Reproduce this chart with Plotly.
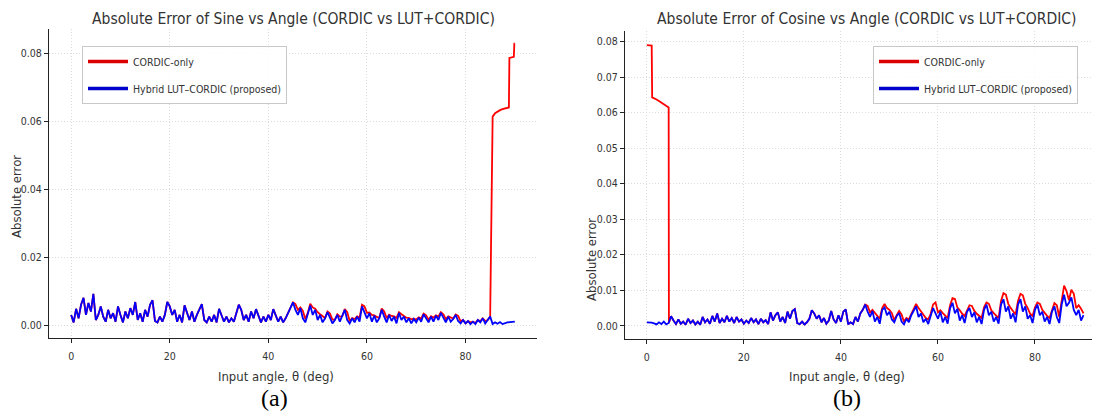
import plotly.graph_objects as go

# ---------------- data ----------------
# common angle grid, 0.5 deg steps
angle = [i * 0.5 for i in range(181)]

# Sine: hybrid LUT-CORDIC absolute error (0..90 deg)
sin_hybrid = [
    0.0030, 0.0008, 0.0048, 0.0020, 0.0060, 0.0080, 0.0030, 0.0065, 0.0040, 0.0092,
    0.0015, 0.0030, 0.0055, 0.0025, 0.0010, 0.0045, 0.0020, 0.0035, 0.0010, 0.0055,
    0.0030, 0.0008, 0.0040, 0.0020, 0.0050, 0.0030, 0.0068, 0.0015, 0.0035, 0.0010,
    0.0045, 0.0025, 0.0060, 0.0073, 0.0012, 0.0008, 0.0025, 0.0010, 0.0030, 0.0068,
    0.0055, 0.0030, 0.0045, 0.0010, 0.0030, 0.0008, 0.0058, 0.0035, 0.0015, 0.0040,
    0.0010, 0.0030, 0.0048, 0.0062, 0.0015, 0.0008, 0.0025, 0.0010, 0.0030, 0.0008,
    0.0048, 0.0030, 0.0010, 0.0025, 0.0008, 0.0020, 0.0010, 0.0035, 0.0060, 0.0045,
    0.0015, 0.0030, 0.0010, 0.0040, 0.0020, 0.0047, 0.0025, 0.0008, 0.0025, 0.0010,
    0.0030, 0.0015, 0.0047, 0.0030, 0.0010, 0.0025, 0.0008, 0.0020, 0.0035, 0.0050,
    0.0067, 0.0045, 0.0030, 0.0050, 0.0020, 0.0008, 0.0035, 0.0058, 0.0030, 0.0045,
    0.0015, 0.0030, 0.0008, 0.0020, 0.0038, 0.0020, 0.0005, 0.0015, 0.0030, 0.0010,
    0.0025, 0.0045, 0.0015, 0.0005, 0.0020, 0.0008, 0.0025, 0.0010, 0.0055, 0.0040,
    0.0020, 0.0035, 0.0010, 0.0028, 0.0008, 0.0020, 0.0045, 0.0025, 0.0008, 0.0030,
    0.0012, 0.0025, 0.0005, 0.0036, 0.0015, 0.0025, 0.0008, 0.0020, 0.0005, 0.0018,
    0.0008, 0.0022, 0.0010, 0.0032, 0.0018, 0.0008, 0.0025, 0.0010, 0.0028, 0.0015,
    0.0036, 0.0020, 0.0008, 0.0025, 0.0010, 0.0018, 0.0030, 0.0012, 0.0005, 0.0015,
    0.0005, 0.0012, 0.0003, 0.0010, 0.0003, 0.0015, 0.0008, 0.0020, 0.0005, 0.0015,
    0.0025, 0.0003, 0.0008, 0.0004, 0.0009, 0.0003, 0.0006, 0.0008, 0.0009, 0.0010,
    0.0010,
]

# Sine: CORDIC-only absolute error
sin_cordic_angle = [
    0.0, 0.5, 1.0, 1.5, 2.0, 2.5, 3.0, 3.5, 4.0, 4.5, 5.0, 5.5, 6.0, 6.5, 7.0, 7.5, 8.0, 8.5, 9.0, 9.5,
    10.0, 10.5, 11.0, 11.5, 12.0, 12.5, 13.0, 13.5, 14.0, 14.5, 15.0, 15.5, 16.0, 16.5, 17.0, 17.5, 18.0, 18.5, 19.0, 19.5,
    20.0, 20.5, 21.0, 21.5, 22.0, 22.5, 23.0, 23.5, 24.0, 24.5, 25.0, 25.5, 26.0, 26.5, 27.0, 27.5, 28.0, 28.5, 29.0, 29.5,
    30.0, 30.5, 31.0, 31.5, 32.0, 32.5, 33.0, 33.5, 34.0, 34.5, 35.0, 35.5, 36.0, 36.5, 37.0, 37.5, 38.0, 38.5, 39.0, 39.5,
    40.0, 40.5, 41.0, 41.5, 42.0, 42.5, 43.0, 43.5, 44.0, 44.5, 45.0, 45.5, 46.0, 46.5, 47.0, 47.5, 48.0, 48.5, 49.0, 49.5,
    50.0, 50.5, 51.0, 51.5, 52.0, 52.5, 53.0, 53.5, 54.0, 54.5, 55.0, 55.5, 56.0, 56.5, 57.0, 57.5, 58.0, 58.5, 59.0, 59.5,
    60.0, 60.5, 61.0, 61.5, 62.0, 62.5, 63.0, 63.5, 64.0, 64.5, 65.0, 65.5, 66.0, 66.5, 67.0, 67.5, 68.0, 68.5, 69.0, 69.5,
    70.0, 70.5, 71.0, 71.5, 72.0, 72.5, 73.0, 73.5, 74.0, 74.5, 75.0, 75.5, 76.0, 76.5, 77.0, 77.5, 78.0, 78.5, 79.0, 79.5,
    80.0, 80.5, 81.0, 81.5, 82.0, 82.5, 83.0, 83.5, 84.0, 84.5, 85.0,
    85.4, 85.5, 86.0, 86.5, 87.0, 87.5, 88.0, 88.5, 88.8, 88.9, 89.5, 89.8, 89.9, 90.0,
]
sin_cordic = [
    0.0030, 0.0008, 0.0048, 0.0020, 0.0060, 0.0080, 0.0030, 0.0065, 0.0040, 0.0092,
    0.0015, 0.0030, 0.0055, 0.0025, 0.0010, 0.0045, 0.0020, 0.0035, 0.0010, 0.0055,
    0.0030, 0.0008, 0.0040, 0.0020, 0.0050, 0.0030, 0.0068, 0.0015, 0.0035, 0.0010,
    0.0045, 0.0025, 0.0060, 0.0073, 0.0012, 0.0008, 0.0025, 0.0010, 0.0030, 0.0068,
    0.0055, 0.0030, 0.0045, 0.0010, 0.0030, 0.0008, 0.0058, 0.0035, 0.0015, 0.0040,
    0.0010, 0.0030, 0.0048, 0.0062, 0.0015, 0.0008, 0.0025, 0.0010, 0.0030, 0.0008,
    0.0048, 0.0030, 0.0010, 0.0025, 0.0008, 0.0020, 0.0010, 0.0035, 0.0060, 0.0045,
    0.0015, 0.0030, 0.0010, 0.0040, 0.0020, 0.0047, 0.0025, 0.0008, 0.0025, 0.0010,
    0.0030, 0.0015, 0.0047, 0.0030, 0.0010, 0.0025, 0.0008, 0.0020, 0.0035, 0.0050,
    0.0067, 0.0062, 0.0045, 0.0052, 0.0042, 0.0018, 0.0036, 0.0063, 0.0052, 0.0048,
    0.0038, 0.0032, 0.0025, 0.0021, 0.0040, 0.0034, 0.0016, 0.0016, 0.0032, 0.0025,
    0.0026, 0.0047, 0.0038, 0.0012, 0.0021, 0.0018, 0.0026, 0.0022, 0.0060, 0.0055,
    0.0036, 0.0037, 0.0030, 0.0029, 0.0024, 0.0021, 0.0049, 0.0040, 0.0020, 0.0031,
    0.0027, 0.0026, 0.0021, 0.0038, 0.0032, 0.0026, 0.0022, 0.0021, 0.0017, 0.0019,
    0.0016, 0.0023, 0.0019, 0.0034, 0.0029, 0.0016, 0.0026, 0.0022, 0.0029, 0.0025,
    0.0038, 0.0032, 0.0018, 0.0026, 0.0022, 0.0019, 0.0031, 0.0027, 0.0011, 0.0015,
    0.0005, 0.0012, 0.0008, 0.0010, 0.0006, 0.0015, 0.0012, 0.0020, 0.0012, 0.0015, 0.0025,
    0.0613, 0.0614, 0.0624, 0.0629, 0.0633, 0.0636, 0.0638, 0.0640, 0.0641, 0.0787, 0.0789, 0.0790, 0.0829, 0.0830,
]

# Cosine: hybrid LUT-CORDIC absolute error (0..90 deg)
cos_hybrid = [
    0.0010, 0.0010, 0.0009, 0.0007, 0.0004, 0.0010, 0.0005, 0.0012, 0.0004, 0.0008,
    0.0027, 0.0015, 0.0005, 0.0018, 0.0006, 0.0012, 0.0003, 0.0020, 0.0008, 0.0015,
    0.0004, 0.0012, 0.0003, 0.0025, 0.0010, 0.0018, 0.0006, 0.0028, 0.0012, 0.0035,
    0.0008, 0.0020, 0.0010, 0.0028, 0.0012, 0.0022, 0.0008, 0.0025, 0.0012, 0.0018,
    0.0006, 0.0015, 0.0008, 0.0022, 0.0010, 0.0018, 0.0005, 0.0020, 0.0010, 0.0016,
    0.0005, 0.0038, 0.0015, 0.0030, 0.0038, 0.0012, 0.0025, 0.0008, 0.0040, 0.0020,
    0.0042, 0.0047, 0.0008, 0.0005, 0.0012, 0.0004, 0.0010, 0.0020, 0.0044, 0.0035,
    0.0020, 0.0030, 0.0010, 0.0022, 0.0006, 0.0015, 0.0042, 0.0018, 0.0008, 0.0030,
    0.0012, 0.0040, 0.0046, 0.0004, 0.0010, 0.0005, 0.0025, 0.0012, 0.0035, 0.0045,
    0.0060, 0.0040, 0.0025, 0.0042, 0.0012, 0.0025, 0.0006, 0.0045, 0.0052, 0.0030,
    0.0040, 0.0018, 0.0010, 0.0028, 0.0036, 0.0012, 0.0004, 0.0020, 0.0010, 0.0030,
    0.0045, 0.0055, 0.0025, 0.0035, 0.0010, 0.0020, 0.0005, 0.0030, 0.0050, 0.0035,
    0.0020, 0.0040, 0.0010, 0.0025, 0.0006, 0.0050, 0.0065, 0.0035, 0.0048, 0.0015,
    0.0030, 0.0008, 0.0040, 0.0050, 0.0025, 0.0038, 0.0010, 0.0025, 0.0005, 0.0045,
    0.0060, 0.0030, 0.0040, 0.0012, 0.0025, 0.0006, 0.0060, 0.0075, 0.0040, 0.0055,
    0.0020, 0.0035, 0.0010, 0.0060, 0.0075, 0.0040, 0.0055, 0.0020, 0.0030, 0.0008,
    0.0045, 0.0060, 0.0030, 0.0040, 0.0012, 0.0025, 0.0005, 0.0040, 0.0055, 0.0025,
    0.0008, 0.0060, 0.0088, 0.0055, 0.0065, 0.0080, 0.0045, 0.0030, 0.0045, 0.0015,
    0.0030,
]

# Cosine: CORDIC-only absolute error
cos_cordic_angle = [
    0.0, 0.5, 1.0, 1.1, 1.5, 2.0, 2.5, 3.0, 3.5, 4.0, 4.5, 4.55,
    5.0, 5.5, 6.0, 6.5, 7.0, 7.5, 8.0, 8.5, 9.0, 9.5,
    10.0, 10.5, 11.0, 11.5, 12.0, 12.5, 13.0, 13.5, 14.0, 14.5, 15.0, 15.5, 16.0, 16.5, 17.0, 17.5, 18.0, 18.5, 19.0, 19.5,
    20.0, 20.5, 21.0, 21.5, 22.0, 22.5, 23.0, 23.5, 24.0, 24.5, 25.0, 25.5, 26.0, 26.5, 27.0, 27.5, 28.0, 28.5, 29.0, 29.5,
    30.0, 30.5, 31.0, 31.5, 32.0, 32.5, 33.0, 33.5, 34.0, 34.5, 35.0, 35.5, 36.0, 36.5, 37.0, 37.5, 38.0, 38.5, 39.0, 39.5,
    40.0, 40.5, 41.0, 41.5, 42.0, 42.5, 43.0, 43.5, 44.0, 44.5, 45.0, 45.5, 46.0, 46.5, 47.0, 47.5, 48.0, 48.5, 49.0, 49.5,
    50.0, 50.5, 51.0, 51.5, 52.0, 52.5, 53.0, 53.5, 54.0, 54.5, 55.0, 55.5, 56.0, 56.5, 57.0, 57.5, 58.0, 58.5, 59.0, 59.5,
    60.0, 60.5, 61.0, 61.5, 62.0, 62.5, 63.0, 63.5, 64.0, 64.5, 65.0, 65.5, 66.0, 66.5, 67.0, 67.5, 68.0, 68.5, 69.0, 69.5,
    70.0, 70.5, 71.0, 71.5, 72.0, 72.5, 73.0, 73.5, 74.0, 74.5, 75.0, 75.5, 76.0, 76.5, 77.0, 77.5, 78.0, 78.5, 79.0, 79.5,
    80.0, 80.5, 81.0, 81.5, 82.0, 82.5, 83.0, 83.5, 84.0, 84.5, 85.0, 85.5, 86.0, 86.5, 87.0, 87.5, 88.0, 88.5, 89.0, 89.5,
    90.0,
]
cos_cordic = [
    0.0790, 0.0790, 0.0789, 0.0643, 0.0641, 0.0637, 0.0633, 0.0629, 0.0624, 0.0619, 0.0615, 0.0008,
    0.0027, 0.0015, 0.0005, 0.0018, 0.0006, 0.0012, 0.0003, 0.0020, 0.0008, 0.0015,
    0.0004, 0.0012, 0.0003, 0.0025, 0.0010, 0.0018, 0.0006, 0.0028, 0.0012, 0.0035,
    0.0008, 0.0020, 0.0010, 0.0028, 0.0012, 0.0022, 0.0008, 0.0025, 0.0012, 0.0018,
    0.0006, 0.0015, 0.0008, 0.0022, 0.0010, 0.0018, 0.0005, 0.0020, 0.0010, 0.0016,
    0.0005, 0.0038, 0.0015, 0.0030, 0.0038, 0.0012, 0.0025, 0.0008, 0.0040, 0.0020,
    0.0042, 0.0047, 0.0008, 0.0005, 0.0012, 0.0004, 0.0010, 0.0020, 0.0044, 0.0035,
    0.0020, 0.0030, 0.0010, 0.0022, 0.0006, 0.0015, 0.0042, 0.0018, 0.0008, 0.0030,
    0.0012, 0.0040, 0.0046, 0.0004, 0.0010, 0.0005, 0.0025, 0.0012, 0.0035, 0.0045,
    0.0060, 0.0056, 0.0038, 0.0045, 0.0036, 0.0027, 0.0020, 0.0050, 0.0062, 0.0050,
    0.0045, 0.0036, 0.0016, 0.0030, 0.0042, 0.0032, 0.0012, 0.0022, 0.0018, 0.0033,
    0.0050, 0.0062, 0.0050, 0.0040, 0.0030, 0.0022, 0.0018, 0.0034, 0.0060, 0.0066,
    0.0038, 0.0044, 0.0036, 0.0028, 0.0022, 0.0058, 0.0078, 0.0076, 0.0052, 0.0044,
    0.0034, 0.0028, 0.0045, 0.0058, 0.0056, 0.0042, 0.0034, 0.0028, 0.0022, 0.0052,
    0.0066, 0.0062, 0.0044, 0.0036, 0.0028, 0.0022, 0.0070, 0.0092, 0.0088, 0.0062,
    0.0050, 0.0040, 0.0032, 0.0070, 0.0090, 0.0086, 0.0062, 0.0050, 0.0034, 0.0028,
    0.0052, 0.0066, 0.0062, 0.0045, 0.0036, 0.0028, 0.0022, 0.0046, 0.0064, 0.0058,
    0.0025, 0.0070, 0.0113, 0.0098, 0.0072, 0.0102, 0.0090, 0.0050, 0.0058, 0.0048,
    0.0035,
]

sin_yticks = [0.00, 0.02, 0.04, 0.06, 0.08]
cos_yticks = [0.00, 0.01, 0.02, 0.03, 0.04, 0.05, 0.06, 0.07, 0.08]
xticks = [0, 20, 40, 60, 80]

series_names = ["CORDIC-only", "Hybrid LUT\u2013CORDIC (proposed)"]
titles = ["Absolute Error of Sine vs Angle (CORDIC vs LUT+CORDIC)",
          "Absolute Error of Cosine vs Angle (CORDIC vs LUT+CORDIC)"]
xlabel = "Input angle, \u03b8 (deg)"
ylabel = "Absolute error"
captions = ["(a)", "(b)"]

# ---------------- styling ----------------
# the page body has an 8 px margin, so the figure is drawn 8 px in from the
# window's top-left corner; positions below are given in window pixels.
OFF = 8
W, H = 1100 - OFF, 412 - OFF
FONT = "DejaVu Sans Condensed, Liberation Sans Narrow, DejaVu Sans, sans-serif"
TXT = "#333333"
RED = "#ff0000"
BLUE = "#0000ff"
LRED = "#dd0000"
LBLUE = "#0000cc"


def px_x(p):
    return (p - OFF) / W


def px_y(p):
    return 1 - (p - OFF) / H


fig = go.Figure()

# data traces
fig.add_trace(go.Scatter(x=sin_cordic_angle, y=sin_cordic, mode="lines",
                         line=dict(color=RED, width=1.8), showlegend=False,
                         xaxis="x", yaxis="y"))
fig.add_trace(go.Scatter(x=angle, y=sin_hybrid, mode="lines",
                         line=dict(color=BLUE, width=1.8), showlegend=False,
                         xaxis="x", yaxis="y"))
fig.add_trace(go.Scatter(x=cos_cordic_angle, y=cos_cordic, mode="lines",
                         line=dict(color=RED, width=1.8), showlegend=False,
                         xaxis="x2", yaxis="y2"))
fig.add_trace(go.Scatter(x=angle, y=cos_hybrid, mode="lines",
                         line=dict(color=BLUE, width=1.8), showlegend=False,
                         xaxis="x2", yaxis="y2"))

# legend entries (thicker sample lines, as in the reference)
for leg, xa, ya in (("legend", "x", "y"), ("legend2", "x2", "y2")):
    for i, (nm, col) in enumerate(zip(series_names, (LRED, LBLUE))):
        fig.add_trace(go.Scatter(x=[None], y=[None], mode="lines", name=nm,
                                 line=dict(color=col, width=3.5),
                                 legend=leg, legendgroup=f"{leg}{i}",
                                 xaxis=xa, yaxis=ya))

axis_common = dict(
    showline=True, linecolor="#222222", linewidth=1.4,
    showgrid=True, gridcolor="#dcdcdc", griddash="1px,2px", gridwidth=1,
    zeroline=False, ticks="outside", ticklen=4, tickwidth=1, tickcolor="#222222",
    tickfont=dict(family=FONT, size=10.5, color=TXT), automargin=False,
)

legend_common = dict(
    bgcolor="rgba(255,255,255,0.85)", bordercolor="#c8c8c8", borderwidth=1,
    font=dict(family=FONT, size=10.5, color=TXT), itemwidth=40,
    xanchor="left", yanchor="top", traceorder="grouped", tracegroupgap=8,
    itemclick=False,
)

fig.update_layout(
    width=W, height=H,
    margin=dict(l=0, r=0, t=0, b=0),
    template="none",
    paper_bgcolor="white", plot_bgcolor="white",
    showlegend=True,
    xaxis=dict(domain=[px_x(49), px_x(537)], range=[-4.5, 94.5], tickvals=xticks,
               anchor="y", ticklabelstandoff=4, **axis_common),
    yaxis=dict(domain=[px_y(338), px_y(29)], range=[-0.0038, 0.0872],
               tickvals=sin_yticks, tickformat=".2f", anchor="x", **axis_common),
    xaxis2=dict(domain=[px_x(625), 1.0], range=[-4.5, 93.4], tickvals=xticks,
                anchor="y2", ticklabelstandoff=4, **axis_common),
    yaxis2=dict(domain=[px_y(339), px_y(31)], range=[-0.0037, 0.083],
                tickvals=cos_yticks, tickformat=".2f", anchor="x2", **axis_common),
    legend=dict(x=px_x(82), y=px_y(46), **legend_common),
    legend2=dict(x=px_x(873), y=px_y(46), **legend_common),
)

annotations = []
# titles
for t, cx in zip(titles, (293, 867)):
    annotations.append(dict(text=t, x=px_x(cx), y=px_y(19), xref="paper", yref="paper",
                            xanchor="center", yanchor="middle", showarrow=False,
                            font=dict(family=FONT, size=15.5, color=TXT)))
# x labels
for cx in (276, 847):
    annotations.append(dict(text=xlabel, x=px_x(cx), y=px_y(376), xref="paper", yref="paper",
                            xanchor="center", yanchor="middle", showarrow=False,
                            font=dict(family=FONT, size=13, color=TXT)))
# y labels
for cx, cy in ((16, 197), (591, 260)):
    annotations.append(dict(text=ylabel, x=px_x(cx), y=px_y(cy), xref="paper", yref="paper",
                            xanchor="center", yanchor="middle", showarrow=False, textangle=-90,
                            font=dict(family=FONT, size=13, color=TXT)))
# panel captions
for c, cx in zip(captions, (274, 847)):
    annotations.append(dict(text=c, x=px_x(cx), y=px_y(398), xref="paper", yref="paper",
                            xanchor="center", yanchor="middle", showarrow=False,
                            font=dict(family="Liberation Serif, Times New Roman, serif",
                                      size=24, color="#000000")))
fig.update_layout(annotations=annotations)

fig.write_html("out.html")
